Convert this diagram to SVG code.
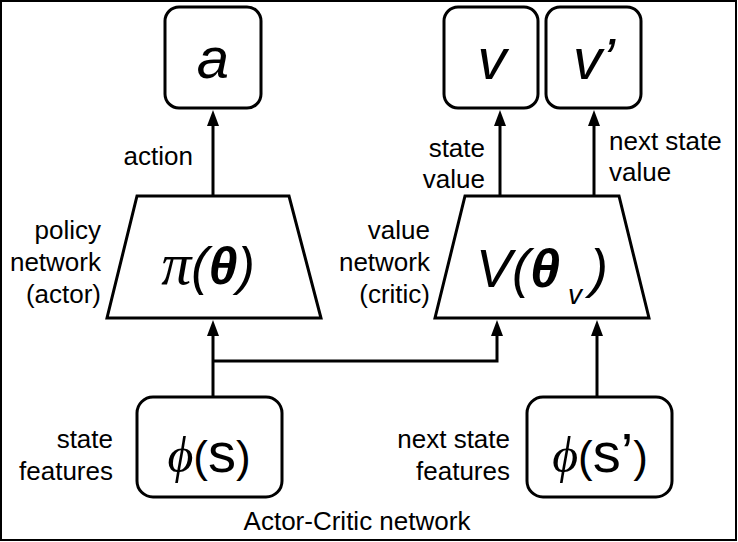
<svg xmlns="http://www.w3.org/2000/svg" width="738" height="542" viewBox="0 0 738 542">
<defs>
<style>
.box{fill:#fff;stroke:#000;stroke-width:3}
.lbl{font-family:"Liberation Sans",Arial,sans-serif;font-size:26px;fill:#000}
.r{text-anchor:end}
.m{text-anchor:middle}
.sym{font-family:"Liberation Sans",Arial,sans-serif;font-style:italic;fill:#000;text-anchor:middle}
.phi{font-family:"Liberation Sans",Arial,sans-serif;fill:#000;text-anchor:middle}
.ser{font-family:"Liberation Serif","Times New Roman",serif;font-style:italic}
.bd{font-weight:bold}
.conn{fill:none;stroke:#000;stroke-width:3}
.head{fill:#000}
</style>
</defs>
<rect x="1" y="1" width="735" height="539" fill="#fff" stroke="#000" stroke-width="2"/>
<g id="connectors">
<line class="conn" x1="213" y1="196" x2="213" y2="124"/>
<line class="conn" x1="500" y1="196" x2="500" y2="124"/>
<line class="conn" x1="594" y1="196" x2="594" y2="124"/>
<line class="conn" x1="213" y1="397" x2="213" y2="334"/>
<polyline class="conn" points="213,361 497,361 497,334"/>
<line class="conn" x1="597" y1="397" x2="597" y2="334"/>
<path class="head" d="M207,126 L213,110 L219,126 Z M494,126 L500,110 L506,126 Z M588,126 L594,110 L600,126 Z M207,336 L213,320 L219,336 Z M491,336 L497,320 L503,336 Z M591,336 L597,320 L603,336 Z"/>
</g>
<g id="node-a">
<rect class="box" x="165" y="7" width="96" height="101" rx="14"/>
<text class="sym" x="213" y="78" font-size="58">a</text>
</g>
<g id="node-v">
<rect class="box" x="444" y="7" width="94" height="101" rx="14"/>
<text class="sym" x="492" y="79" font-size="58">v</text>
</g>
<g id="node-v2">
<rect class="box" x="546" y="7" width="95" height="101" rx="14"/>
<text class="sym" x="594" y="79" font-size="58">v’</text>
</g>
<g id="node-policy">
<polygon class="box" points="137,196 289,196 321,318 107,318"/>
<text class="sym" x="208" y="284" font-size="52"><tspan class="ser" font-size="60">π</tspan>(<tspan class="bd">θ</tspan>)</text>
</g>
<g id="node-value">
<polygon class="box" points="465,196 619,196 649,318 435,318"/>
<text class="sym" x="542" y="287" font-size="54">V(<tspan class="bd">θ</tspan><tspan font-size="28" dx="8" dy="17">v</tspan><tspan dx="8" dy="-17">)</tspan></text>
</g>
<g id="node-phis">
<rect class="box" x="137" y="397" width="145" height="100" rx="16"/>
<text class="phi" x="209" y="472" font-size="44"><tspan class="ser" font-size="50">ϕ</tspan>(<tspan font-size="56">s</tspan>)</text>
</g>
<g id="node-phis2">
<rect class="box" x="527" y="397" width="145" height="100" rx="16"/>
<text class="phi" x="600" y="472" font-size="44"><tspan class="ser" font-size="50">ϕ</tspan>(<tspan font-size="56">s’</tspan>)</text>
</g>
<g id="labels">
<text class="lbl r" x="193" y="165">action</text>
<text class="lbl r" x="485" y="157">state</text>
<text class="lbl r" x="485" y="188">value</text>
<text class="lbl" x="609" y="150">next state</text>
<text class="lbl" x="609" y="181">value</text>
<text class="lbl r" x="101" y="239">policy</text>
<text class="lbl r" x="101" y="271">network</text>
<text class="lbl r" x="101" y="303">(actor)</text>
<text class="lbl r" x="430" y="239">value</text>
<text class="lbl r" x="430" y="271">network</text>
<text class="lbl r" x="430" y="303">(critic)</text>
<text class="lbl r" x="113" y="448">state</text>
<text class="lbl r" x="113" y="480">features</text>
<text class="lbl r" x="510" y="448">next state</text>
<text class="lbl r" x="510" y="480">features</text>
<text class="lbl m" x="357" y="530">Actor-Critic network</text>
</g>
</svg>
